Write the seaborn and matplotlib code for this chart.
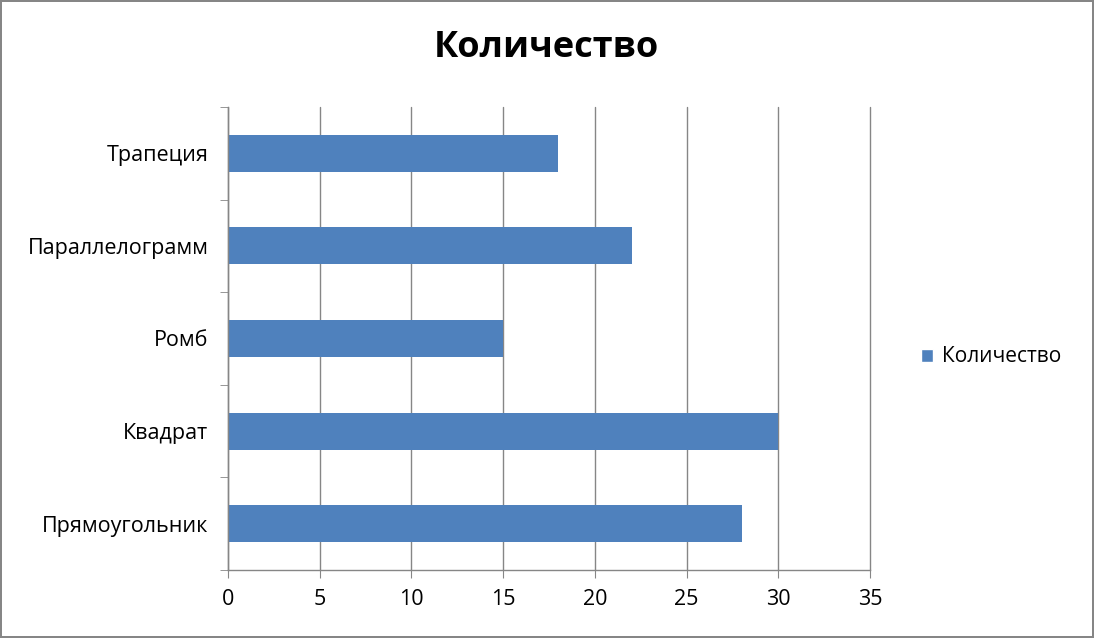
import matplotlib
matplotlib.use("Agg")
import matplotlib.pyplot as plt
import seaborn as sns
import pandas as pd
from matplotlib.patches import Patch

shapes = ["Трапеция", "Параллелограмм", "Ромб", "Квадрат", "Прямоугольник"]
counts = [18, 22, 15, 30, 28]
series_name = "Количество"

df = pd.DataFrame({"shape": shapes, "count": counts})

sns.set_style("white")
plt.rcParams["font.family"] = ["Open Sans", "DejaVu Sans"]
plt.rcParams["text.color"] = "black"

fig = plt.figure(figsize=(10.94, 6.38), dpi=100, edgecolor="#868686", linewidth=1.5)
ax = fig.add_axes([228 / 1094, 1 - 570 / 638, 642 / 1094, 463 / 638])

sns.barplot(data=df, x="count", y="shape", orient="h", color="#4F81BD",
            saturation=1, width=0.4, linewidth=0, ax=ax)

ax.set_xlim(0, 35)
ax.set_xticks(range(0, 36, 5))
ax.set_ylim(4.5, -0.5)
ax.grid(axis="x", color="#868686", linewidth=1)
for gl in ax.get_xgridlines():
    gl.set_clip_on(False)
ax.set_axisbelow(True)
ax.set_xlabel("")
ax.set_ylabel("")

for s in ["top", "right"]:
    ax.spines[s].set_visible(False)
for s in ["left", "bottom"]:
    ax.spines[s].set_color("#868686")
    ax.spines[s].set_linewidth(1)

ax.set_yticks([i - 0.5 for i in range(6)], minor=True)
ax.tick_params(axis="y", which="major", length=0, pad=14, labelsize=15.5, labelcolor="black")
ax.tick_params(axis="y", which="minor", length=6, color="#868686", direction="out", left=True)
ax.tick_params(axis="x", which="major", length=6, color="#868686", direction="out",
               bottom=True, labelsize=15.5, pad=8, labelcolor="black")

fig.suptitle("Количество", x=546 / 1094, y=1 - 48 / 638, va="center",
             fontsize=26, fontweight="bold", color="black")

fig.legend(handles=[Patch(facecolor="#4F81BD", label=series_name)],
           loc="center left", bbox_to_anchor=(902 / 1094, 1 - 357 / 638),
           frameon=False, fontsize=15, handlelength=0.6, handleheight=0.6,
           handletextpad=0.4, labelcolor="black")

fig.savefig("out.png", dpi=100, edgecolor=fig.get_edgecolor())
